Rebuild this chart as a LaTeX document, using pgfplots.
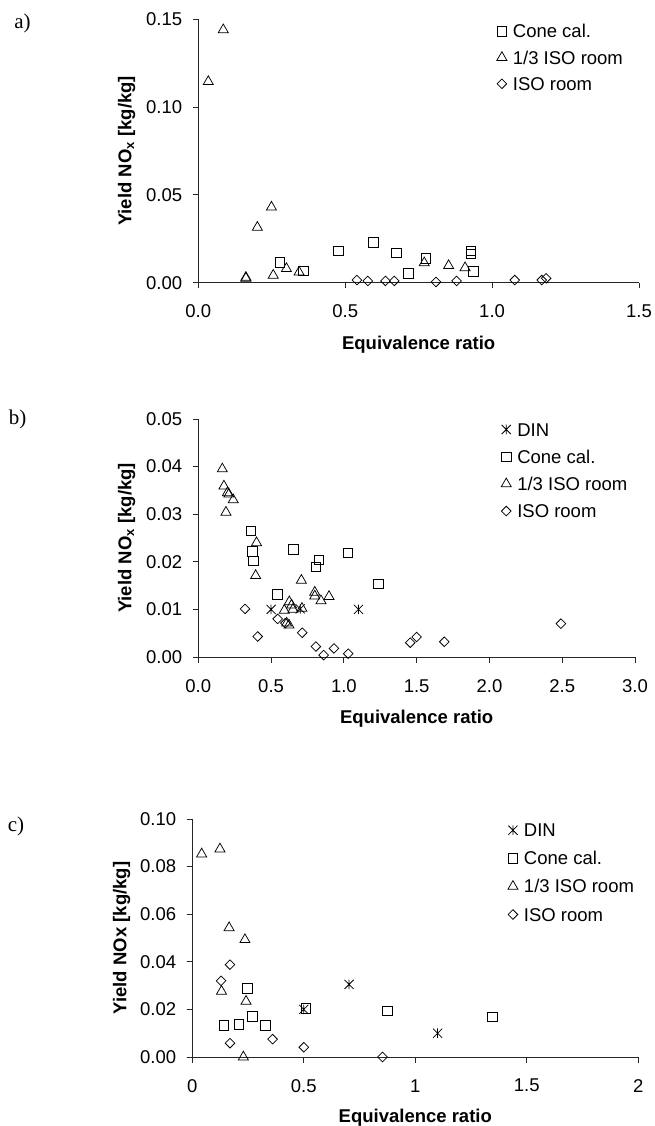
\documentclass[border=0pt]{standalone}
\usepackage{fontspec}
\setmainfont{Liberation Sans}
\newfontfamily\panelfont{Liberation Serif}
\usepackage{pgfplots}
\pgfplotsset{compat=1.18}
\newcommand{\F}{\fontsize{18.5bp}{22bp}\selectfont}

\pgfdeclareplotmark{xstar}{%
 \pgfpathmoveto{\pgfqpoint{-.95\pgfplotmarksize}{-.95\pgfplotmarksize}}%
 \pgfpathlineto{\pgfqpoint{.95\pgfplotmarksize}{.95\pgfplotmarksize}}%
 \pgfpathmoveto{\pgfqpoint{-.95\pgfplotmarksize}{.95\pgfplotmarksize}}%
 \pgfpathlineto{\pgfqpoint{.95\pgfplotmarksize}{-.95\pgfplotmarksize}}%
 \pgfpathmoveto{\pgfqpoint{0pt}{-\pgfplotmarksize}}%
 \pgfpathlineto{\pgfqpoint{0pt}{\pgfplotmarksize}}%
 \pgfusepathqstroke}

\pgfplotsset{
 panel/.style={
  scale only axis, clip=false,
  axis x line*=bottom, axis y line*=left,
  axis line style={-, line width=0.8bp, black!85},
  tick style={line width=0.8bp, black!85},
  tick align=outside, major tick length=5.7bp,
  xmin=0, ymin=0, scaled ticks=false,
  tick label style={font=\F},
  /pgf/number format/assume math mode=true,
  yticklabel style={anchor=east, inner sep=0pt, xshift=-10.2bp},
  xticklabel style={anchor=center, inner sep=0pt},
  legend cell align=left,
  legend image code/.code={\path[draw=none, fill=none] (0bp,-5bp) rectangle (10bp,5bp); \draw[##1] plot coordinates {(5bp,0bp)};},
  legend style={draw=none, fill=none, inner sep=0pt, column sep=6bp, font=\F,
    nodes={inner sep=0pt, text height=13.2bp, text depth=0pt}},
 },
 din/.style={only marks, mark=xstar, mark size=4.8bp, mark options={black, line width=0.75bp}},
 cone/.style={only marks, mark=square, mark size=4.8bp, mark options={black, line width=0.75bp}},
 third/.style={only marks, mark=triangle, mark size=5.8bp, mark options={black, line width=0.75bp}},
 iso/.style={only marks, mark=square, mark size=3.4bp, mark options={rotate=45, black, line width=0.75bp}},
}

\pgfplotstableread{
x y
0.277 0.0114
0.357 0.0068
0.477 0.0180
0.596 0.0230
0.675 0.0170
0.716 0.0053
0.775 0.0137
0.928 0.0180
0.928 0.0163
0.936 0.0063
}\aCone
\pgfplotstableread{
x y
0.034 0.1145
0.085 0.1440
0.162 0.0030
0.162 0.0025
0.201 0.0315
0.249 0.0430
0.255 0.0042
0.300 0.0080
0.343 0.0060
0.769 0.0113
0.852 0.0097
0.908 0.0085
}\aThird
\pgfplotstableread{
x y
0.540 0.0015
0.577 0.0010
0.637 0.0010
0.667 0.0010
0.809 0.0004
0.879 0.0010
1.077 0.0015
1.169 0.0015
1.184 0.0025
}\aIso

\pgfplotstableread{
x y
0.50 0.0100
0.70 0.0101
1.10 0.0100
}\bDin
\pgfplotstableread{
x y
0.360 0.0265
0.371 0.0222
0.378 0.0202
0.545 0.0131
0.655 0.0226
0.808 0.0189
0.827 0.0204
1.028 0.0219
1.239 0.0154
}\bCone
\pgfplotstableread{
x y
0.165 0.0395
0.176 0.0359
0.200 0.0345
0.210 0.0342
0.240 0.0330
0.190 0.0304
0.400 0.0240
0.394 0.0171
0.591 0.0098
0.625 0.0116
0.641 0.0109
0.650 0.0100
0.623 0.0067
0.607 0.0071
0.708 0.0161
0.712 0.0102
0.800 0.0136
0.800 0.0128
0.843 0.0118
0.898 0.0127
}\bThird
\pgfplotstableread{
x y
0.321 0.0101
0.408 0.0043
0.545 0.0080
0.598 0.0071
0.714 0.0051
0.808 0.0022
0.861 0.0004
0.932 0.0018
1.030 0.0007
1.456 0.0030
1.500 0.0042
1.690 0.0032
2.491 0.0070
}\bIso

\pgfplotstableread{
x y
0.50 0.0200
0.703 0.0305
1.10 0.0100
}\cDin
\pgfplotstableread{
x y
0.142 0.0132
0.208 0.0136
0.247 0.0289
0.270 0.0170
0.327 0.0132
0.510 0.0204
0.876 0.0193
1.345 0.0169
}\cCone
\pgfplotstableread{
x y
0.042 0.0853
0.124 0.0874
0.165 0.0543
0.236 0.0493
0.131 0.0276
0.241 0.0234
0.229 0.0000
}\cThird
\pgfplotstableread{
x y
0.169 0.0388
0.129 0.0320
0.169 0.0058
0.360 0.0075
0.500 0.0041
0.853 0.0000
}\cIso

\begin{document}
\begin{tikzpicture}[x=1bp, y=1bp]
\useasboundingbox (0,0) rectangle (655,1126);

% ---------- a)
\begin{axis}[panel,
  at={(198.3bp,843.3bp)}, anchor=south west,
  width=440.7bp, height=263.4bp,
  xmax=1.5, ymax=0.15,
  xtick={0,0.5,1,1.5}, ytick={0,0.05,0.1,0.15},
  xticklabel style={yshift=-22.6bp, /pgf/number format/.cd, fixed, fixed zerofill, precision=1},
  yticklabel style={/pgf/number format/.cd, fixed, fixed zerofill, precision=2},
  xlabel={Equivalence ratio},
  ylabel={Yield NO\textsubscript{x} [kg/kg]},
  every axis x label/.style={at={(rel axis cs:0.5,0)}, yshift=-62.5bp, anchor=center, font=\bfseries\F},
  every axis y label/.style={at={(rel axis cs:0,0.5)}, xshift=-71.6bp, rotate=90, anchor=center, font=\bfseries\F},
  legend style={at={(rel axis cs:0.677,0.9806)}, anchor=north west, row sep=13.1bp},
]
\addplot[cone] table {\aCone};
\addplot[third] table {\aThird};
\addplot[iso] table {\aIso};
\legend{Cone cal., 1/3 ISO room, ISO room}
\end{axis}

% ---------- b)
\begin{axis}[panel,
  at={(198.3bp,469bp)}, anchor=south west,
  width=436.7bp, height=238bp,
  xmax=3, ymax=0.05,
  xtick={0,0.5,1,1.5,2,2.5,3}, ytick={0,0.01,0.02,0.03,0.04,0.05},
  xticklabel style={yshift=-23.3bp, /pgf/number format/.cd, fixed, fixed zerofill, precision=1},
  yticklabel style={/pgf/number format/.cd, fixed, fixed zerofill, precision=2},
  xlabel={Equivalence ratio},
  ylabel={Yield NO\textsubscript{x} [kg/kg]},
  every axis x label/.style={at={(rel axis cs:0.5,0)}, yshift=-61.3bp, anchor=center, font=\bfseries\F},
  every axis y label/.style={at={(rel axis cs:0,0.5)}, xshift=-71.6bp, rotate=90, anchor=center, font=\bfseries\F},
  legend style={at={(rel axis cs:0.6932,0.9845)}, anchor=north west, row sep=14bp},
]
\addplot[din] table {\bDin};
\addplot[cone] table {\bCone};
\addplot[third] table {\bThird};
\addplot[iso] table {\bIso};
\legend{DIN, Cone cal., 1/3 ISO room, ISO room}
\end{axis}

% ---------- c)
\begin{axis}[panel,
  at={(192.3bp,69bp)}, anchor=south west,
  width=446bp, height=238bp,
  xmax=2, ymax=0.1,
  xtick={0,0.5,1,1.5,2}, xticklabels={0,0.5,1,1.5,2},
  xticklabel style={yshift=-23bp},
  ytick={0,0.02,0.04,0.06,0.08,0.1},
  yticklabel style={/pgf/number format/.cd, fixed, fixed zerofill, precision=2},
  xlabel={Equivalence ratio},
  ylabel={Yield NOx [kg/kg]},
  every axis x label/.style={at={(rel axis cs:0.5,0)}, yshift=-60.7bp, anchor=center, font=\bfseries\F},
  every axis y label/.style={at={(rel axis cs:0,0.5)}, xshift=-70.6bp, rotate=90, anchor=center, font=\bfseries\F},
  legend style={at={(rel axis cs:0.7072,0.9815)}, anchor=north west, row sep=14.9bp},
]
\addplot[din] table {\cDin};
\addplot[cone] table {\cCone};
\addplot[third] table {\cThird};
\addplot[iso] table {\cIso};
\legend{DIN, Cone cal., 1/3 ISO room, ISO room}
\end{axis}

\node[font=\panelfont\fontsize{21bp}{24bp}\selectfont, anchor=center] at (22.5,1103) {a)};
\node[font=\panelfont\fontsize{21bp}{24bp}\selectfont, anchor=center] at (17.5,707) {b)};
\node[font=\panelfont\fontsize{21bp}{24bp}\selectfont, anchor=center] at (16,300) {c)};
\end{tikzpicture}
\end{document}
